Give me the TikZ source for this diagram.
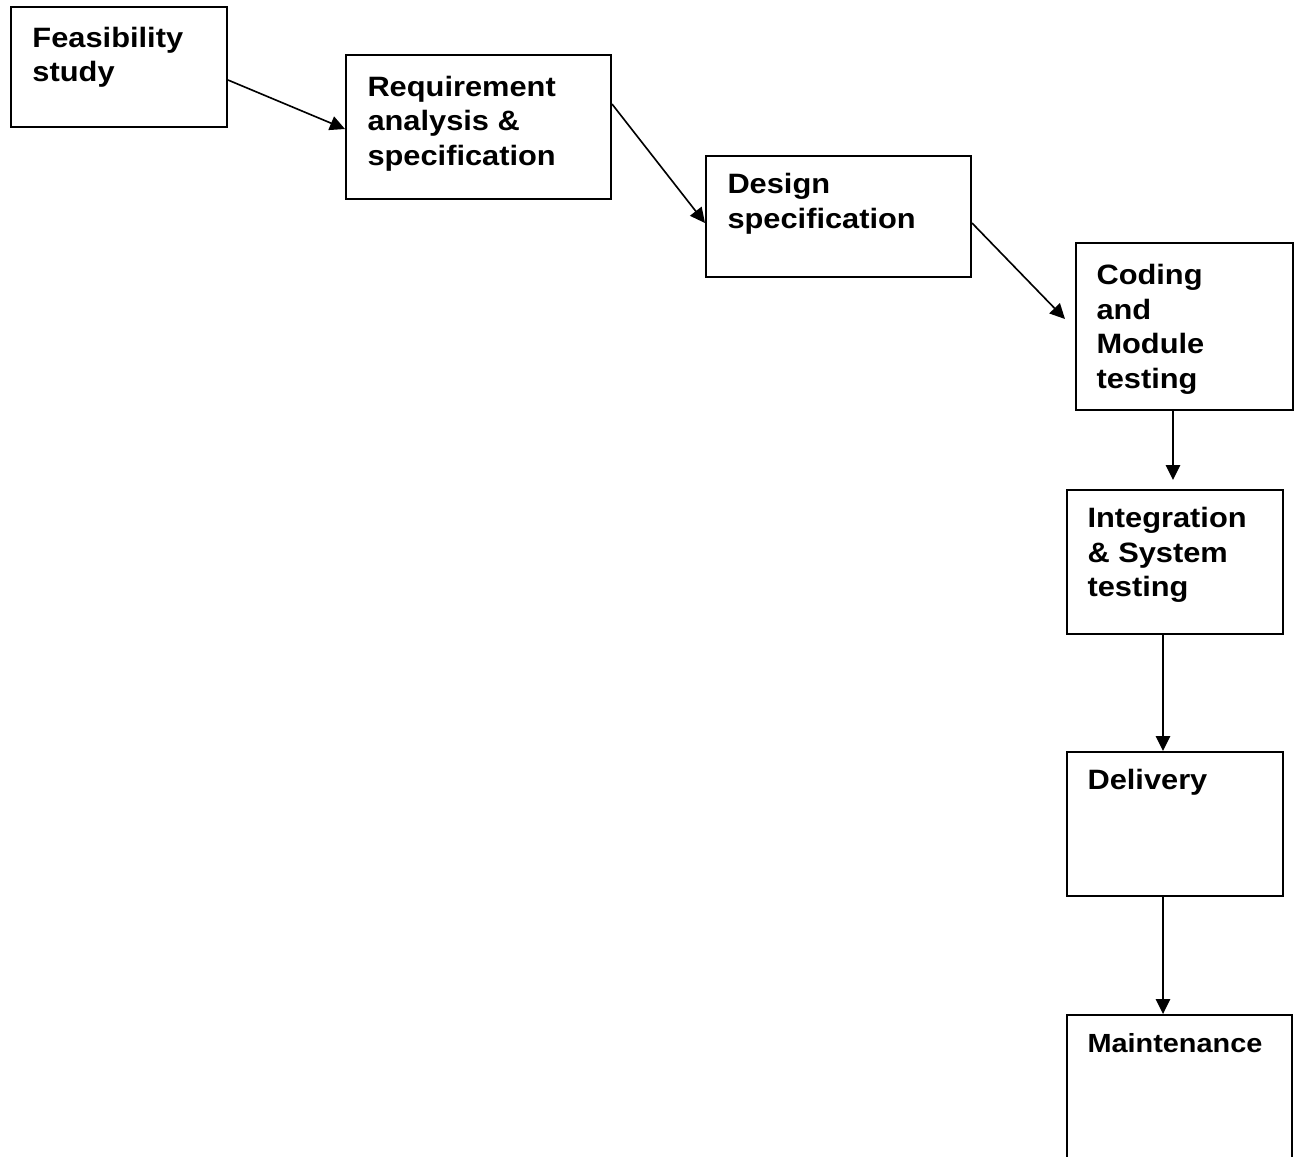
\documentclass[tikz,border=0pt]{standalone}
\usepackage{fontspec}
\setmainfont[FakeStretch=1.1]{Liberation Sans}
\usetikzlibrary{arrows.meta}
\newcommand\pu{0.4pt}

\begin{document}
\begin{tikzpicture}[x=0.4pt,y=-0.4pt,
  box/.style={draw,line width=0.8pt,inner sep=0,anchor=north west},
  txt/.style={anchor=north west,inner sep=0,align=left,font=\fontsize{11.2}{13.8}\selectfont\bfseries},
  arr/.style={-{Triangle[length=6pt,width=5.8pt]},line width=0.65pt}]
\clip (0,0) rectangle (1300,1156);
\fill[white] (0,0) rectangle (1300,1156);
\node[box,minimum width=216*\pu,minimum height=120*\pu] (feas) at (10,6) {};
\node[box,minimum width=265*\pu,minimum height=144*\pu] (req) at (345,54) {};
\node[box,minimum width=265*\pu,minimum height=121*\pu] (des) at (705,155) {};
\node[box,minimum width=217*\pu,minimum height=167*\pu] (cod) at (1075,242) {};
\node[box,minimum width=216*\pu,minimum height=144*\pu] (integ) at (1066,489) {};
\node[box,minimum width=216*\pu,minimum height=144*\pu] (deliv) at (1066,751) {};
\node[box,minimum width=225*\pu,minimum height=146*\pu] (maint) at (1066,1014) {};
\node[txt] (feas-t) at ([shift={(22,20.5)}]feas.north west) {Feasibility\\study};
\node[txt] (req-t) at ([shift={(22,21.5)}]req.north west) {Requirement\\analysis \&\\specification};
\node[txt] (des-t) at ([shift={(22,18)}]des.north west) {Design\\specification};
\node[txt] (cod-t) at ([shift={(21,22)}]cod.north west) {Coding\\and\\Module\\testing};
\node[txt] (integ-t) at ([shift={(21,18)}]integ.north west) {Integration\\\& System\\testing};
\node[txt] (deliv-t) at ([shift={(21,18)}]deliv.north west) {Delivery};
\node[txt,font=\fontsize{10.5}{13.8}\selectfont\bfseries] (maint-t) at ([shift={(21,18.5)}]maint.north west) {Maintenance};
\draw[arr] ([shift={(0,13)}]feas.east) -- ([shift={(0,2)}]req.west);
\draw[arr] ([shift={(0,-23)}]req.east) -- ([shift={(0,6.5)}]des.west);
\draw[arr] ([shift={(0,6.5)}]des.east) -- ([shift={(-10,-7.5)}]cod.west);
\draw[arr] ([shift={(-11.5,0)}]cod.south) -- ([shift={(-2,-9)}]integ.north);
\draw[arr] ([shift={(-12,0)}]integ.south) -- ([shift={(-12,0)}]deliv.north);
\draw[arr] ([shift={(-12,0)}]deliv.south) -- ([shift={(-16.5,0)}]maint.north);
\end{tikzpicture}
\end{document}
